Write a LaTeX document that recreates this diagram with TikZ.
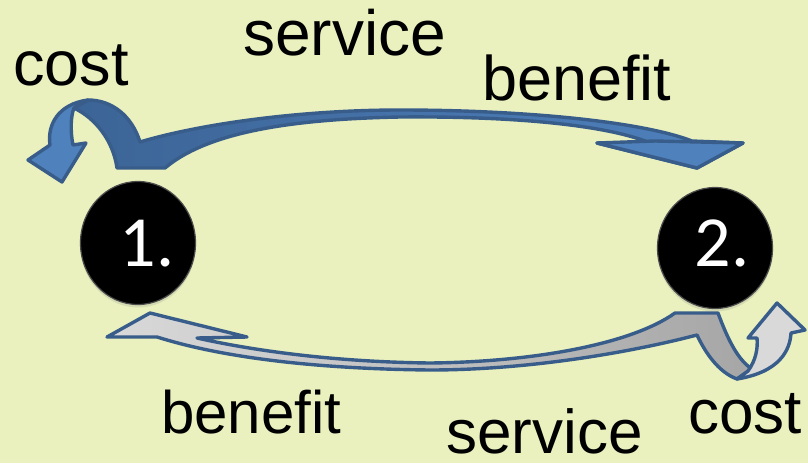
\documentclass[tikz,border=0pt]{standalone}
\usepackage{fontspec}
\setmainfont{Liberation Sans}
\newfontfamily\numfont{Carlito}
\usetikzlibrary{shapes.geometric,shadows}

\definecolor{bgcol}{RGB}{234,241,190}
\definecolor{rimblue}{RGB}{56,93,138}
\definecolor{darkblue}{RGB}{60,100,150}
\definecolor{lightblue}{RGB}{79,129,189}
\definecolor{darkgrey}{RGB}{166,166,166}
\definecolor{lightgrey}{RGB}{217,217,217}

\begin{document}
\begin{tikzpicture}[x=1pt, y=-1pt,
    ball/.style={ellipse, fill=black, draw=black!70, line width=1.2pt, inner sep=0pt,
      minimum width=115pt, drop shadow={opacity=0.2, shadow xshift=0pt, shadow yshift=-3pt}},
    num/.style={text=white, font=\numfont\fontsize{72}{80}\selectfont, anchor=base, inner sep=0pt},
    word/.style={font=\fontsize{#1}{#1}\selectfont, anchor=base west, inner sep=0pt},
    rim/.style={draw=rimblue, line width=3.4pt, line join=round}]
    \useasboundingbox (0,0) rectangle (808,463);
    \fill[bgcol] (0,0) rectangle (808,463);

    % Upper arrow: 1 -> 2
    \path[rim, left color=darkblue, right color=lightblue]
      (117,168) -- (165,168) .. controls (210,130) and (300,119) .. (400,117)
      .. controls (520,116) and (610,126) .. (650,143) -- (597,143) -- (697,168) -- (743,143)
      -- (692,141) .. controls (640,121) and (520,110) .. (400,110)
      .. controls (300,110) and (200,124) .. (140,142)
      .. controls (132,116) and (112,100) .. (88,100) -- (74,108)
      .. controls (95,118) and (113,140) .. (117,168) -- cycle;
    \path[rim, fill=lightblue] (597,143) -- (697,168) -- (743,143) -- (655,141) -- cycle;
    % cost curl at 1
    \path[rim, fill=lightblue]
      (88,100) .. controls (58,104) and (47,125) .. (50,145) -- (28,160) -- (62,182)
      -- (86,143) -- (73,145) .. controls (70,130) and (71,115) .. (74,108) -- cycle;

    % Lower arrow: 2 -> 1
    \path[rim, left color=lightgrey, right color=darkgrey]
      (675,313) -- (718,313) .. controls (728,340) and (738,360) .. (752,369) -- (737,379)
      .. controls (718,372) and (705,352) .. (697,335)
      .. controls (620,355) and (520,370) .. (430,370)
      .. controls (330,369) and (230,360) .. (157,337) -- (107,337) -- (150,313) -- (247,337)
      -- (197,338) .. controls (260,352) and (340,362) .. (430,363)
      .. controls (530,362) and (630,345) .. (675,313) -- cycle;
    % cost curl at 2
    \path[rim, fill=lightgrey]
      (748,371) .. controls (756,360) and (758,348) .. (757,338) -- (748,338) -- (777,303)
      -- (805,330) -- (791,333) .. controls (790,350) and (780,372) .. (737,379) -- cycle;

    % Parties
    \node[ball, minimum height=123pt] (one) at (138,243) {};
    \node[ball, minimum height=121pt] (two) at (715,248) {};
    \node[num] (onelbl) at (147,266) {1.};
    \node[num] (twolbl) at (722,266) {2.};

    % Labels
    \node[word=63] (costa) at (13,85) {cost};
    \node[word=64] (servicea) at (243,55) {service};
    \node[word=63] (benefita) at (482,100) {benefit};
    \node[word=60] (benefitb) at (161,433) {benefit};
    \node[word=62] (serviceb) at (446,453) {service};
    \node[word=62] (costb) at (688,433) {cost};
\end{tikzpicture}
\end{document}
